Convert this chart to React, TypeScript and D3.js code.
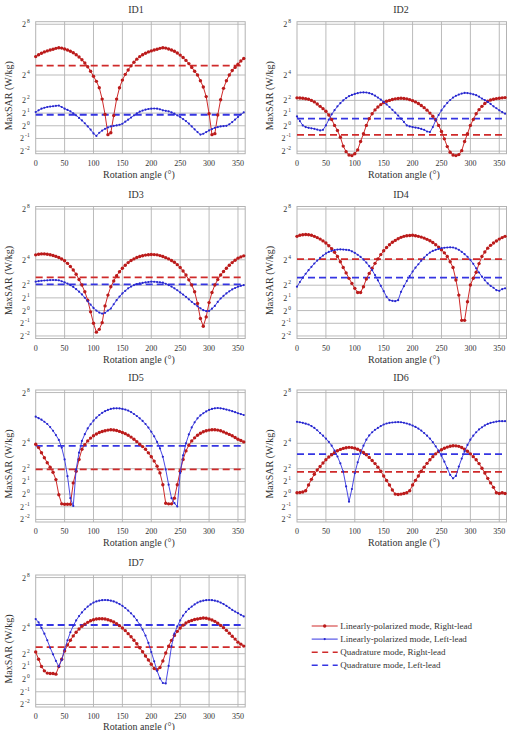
import React from 'react';
import * as d3 from 'd3';

// MaxSAR per rotation angle, stored as log2(W/kg), sampled every 5 degrees from 0 to 360
const angles = d3.range(0, 361, 5);

const linRight1 = [5.45, 5.6, 5.72, 5.82, 5.9, 5.97, 6.03, 6.1, 6.15, 6.12, 6.05, 5.97, 5.87, 5.75, 5.6, 5.42, 5.2, 4.95, 4.65, 4.3, 3.9, 3.5, 3.0, 2.1, 0.9, -0.7, -0.55, 0.8, 2.1, 3.0, 3.6, 4.05, 4.4, 4.72, 5.0, 5.25, 5.45, 5.6, 5.72, 5.82, 5.9, 5.97, 6.03, 6.1, 6.15, 6.12, 6.05, 5.97, 5.87, 5.73, 5.57, 5.38, 5.15, 4.9, 4.6, 4.3, 4.0, 3.55, 3.05, 2.3, 0.95, -0.7, -0.62, 0.85, 2.05, 2.95, 3.55, 4.0, 4.35, 4.6, 4.85, 5.1, 5.3];
const linLeft1 = [1.08, 1.22, 1.35, 1.42, 1.48, 1.51, 1.54, 1.57, 1.59, 1.48, 1.35, 1.25, 1.14, 0.98, 0.82, 0.62, 0.42, 0.2, -0.05, -0.3, -0.6, -0.8, -0.55, -0.38, -0.24, -0.13, -0.05, 0.0, 0.03, 0.08, 0.16, 0.32, 0.48, 0.65, 0.82, 0.97, 1.11, 1.2, 1.27, 1.32, 1.35, 1.36, 1.35, 1.3, 1.22, 1.18, 1.14, 1.05, 0.95, 0.82, 0.69, 0.53, 0.37, 0.17, -0.05, -0.28, -0.5, -0.69, -0.63, -0.5, -0.37, -0.26, -0.16, -0.1, -0.05, -0.02, 0.0, 0.12, 0.29, 0.49, 0.69, 0.88, 1.06];

const linRight2 = [2.2, 2.19, 2.17, 2.13, 2.09, 2.0, 1.88, 1.72, 1.53, 1.35, 1.14, 0.85, 0.5, 0.03, -0.37, -0.9, -1.6, -2.04, -2.3, -2.35, -2.2, -1.9, -1.24, -0.63, 0.03, 0.56, 0.95, 1.25, 1.48, 1.67, 1.83, 1.93, 2.0, 2.07, 2.12, 2.15, 2.17, 2.15, 2.12, 2.06, 1.98, 1.88, 1.75, 1.6, 1.43, 1.23, 1.0, 0.75, 0.48, 0.03, -0.45, -1.03, -1.64, -2.09, -2.3, -2.35, -2.27, -1.96, -1.24, -0.63, 0.03, 0.5, 0.95, 1.27, 1.53, 1.75, 1.93, 2.03, 2.09, 2.14, 2.17, 2.2, 2.22];
const linLeft2 = [0.74, 0.37, 0.03, -0.1, -0.16, -0.2, -0.24, -0.3, -0.37, -0.32, 0.03, 0.48, 0.9, 1.23, 1.53, 1.78, 2.0, 2.18, 2.33, 2.43, 2.51, 2.57, 2.62, 2.63, 2.62, 2.57, 2.49, 2.37, 2.22, 2.06, 1.88, 1.68, 1.48, 1.26, 1.03, 0.8, 0.56, 0.3, 0.03, -0.05, -0.1, -0.14, -0.18, -0.25, -0.32, -0.45, -0.5, -0.1, 0.42, 0.85, 1.22, 1.53, 1.8, 2.03, 2.22, 2.36, 2.46, 2.54, 2.59, 2.58, 2.54, 2.48, 2.41, 2.29, 2.14, 2.02, 1.88, 1.72, 1.53, 1.38, 1.22, 1.08, 0.95];

const linRight3 = [4.39, 4.44, 4.47, 4.47, 4.44, 4.4, 4.34, 4.27, 4.18, 4.06, 3.92, 3.72, 3.47, 3.2, 2.86, 2.45, 2.01, 1.48, 0.82, -0.1, -1.0, -1.7, -1.48, -0.95, 0.37, 1.22, 1.88, 2.33, 2.75, 3.06, 3.33, 3.57, 3.78, 3.94, 4.07, 4.18, 4.26, 4.32, 4.37, 4.4, 4.42, 4.41, 4.39, 4.33, 4.26, 4.17, 4.07, 3.95, 3.81, 3.62, 3.39, 3.12, 2.8, 2.42, 2.01, 1.48, 0.56, -0.63, -1.24, -0.5, 0.63, 1.43, 2.01, 2.44, 2.8, 3.08, 3.33, 3.57, 3.78, 3.96, 4.13, 4.23, 4.31];
const linLeft3 = [2.28, 2.32, 2.35, 2.37, 2.38, 2.4, 2.41, 2.4, 2.38, 2.31, 2.22, 2.12, 2.01, 1.86, 1.69, 1.49, 1.27, 1.01, 0.74, 0.47, 0.21, 0.0, -0.16, -0.24, -0.18, 0.0, 0.16, 0.5, 0.82, 1.1, 1.35, 1.56, 1.75, 1.89, 2.01, 2.08, 2.14, 2.18, 2.22, 2.25, 2.28, 2.27, 2.25, 2.23, 2.2, 2.11, 2.01, 1.89, 1.75, 1.6, 1.43, 1.26, 1.08, 0.89, 0.69, 0.51, 0.34, 0.18, 0.03, -0.04, -0.03, 0.15, 0.37, 0.68, 0.95, 1.16, 1.35, 1.52, 1.67, 1.78, 1.88, 1.95, 2.01];

const linRight4 = [5.85, 5.93, 5.98, 5.99, 5.98, 5.93, 5.85, 5.75, 5.63, 5.49, 5.32, 5.11, 4.87, 4.59, 4.26, 3.85, 3.39, 2.97, 2.54, 2.14, 1.75, 1.43, 1.43, 1.88, 2.49, 2.93, 3.33, 3.72, 4.07, 4.41, 4.71, 4.97, 5.19, 5.38, 5.53, 5.66, 5.77, 5.85, 5.9, 5.92, 5.93, 5.9, 5.85, 5.79, 5.71, 5.61, 5.5, 5.36, 5.19, 5.0, 4.79, 4.55, 4.26, 3.85, 3.39, 2.41, 1.22, -0.77, -0.77, 0.69, 2.01, 2.55, 3.02, 3.7, 4.26, 4.62, 4.92, 5.14, 5.32, 5.48, 5.63, 5.75, 5.85];
const linLeft4 = [1.88, 2.25, 2.59, 2.9, 3.18, 3.45, 3.71, 3.94, 4.15, 4.33, 4.5, 4.62, 4.71, 4.77, 4.81, 4.82, 4.81, 4.79, 4.76, 4.67, 4.55, 4.4, 4.23, 4.02, 3.78, 3.5, 3.18, 2.8, 2.38, 1.95, 1.53, 1.08, 0.82, 0.77, 0.74, 0.82, 1.48, 1.92, 2.33, 2.72, 3.07, 3.38, 3.65, 3.93, 4.18, 4.39, 4.57, 4.7, 4.79, 4.86, 4.92, 4.95, 4.97, 4.98, 4.97, 4.9, 4.79, 4.63, 4.44, 4.24, 4.0, 3.68, 3.33, 3.0, 2.67, 2.39, 2.14, 1.95, 1.8, 1.61, 1.56, 1.69, 1.75];

const linRight5 = [3.93, 3.66, 3.26, 2.86, 2.47, 2.12, 1.72, 1.14, -0.05, -0.77, -0.8, -0.8, -0.8, 0.88, 1.8, 2.73, 3.53, 3.9, 4.19, 4.41, 4.59, 4.73, 4.85, 4.93, 4.99, 5.04, 5.07, 5.05, 5.01, 4.94, 4.85, 4.76, 4.64, 4.49, 4.32, 4.13, 3.93, 3.74, 3.53, 3.25, 2.94, 2.6, 2.2, 1.67, 0.74, -0.72, -0.77, -0.77, -0.32, 0.74, 1.8, 2.73, 3.4, 3.85, 4.19, 4.43, 4.64, 4.79, 4.91, 4.99, 5.04, 5.07, 5.07, 5.04, 4.99, 4.9, 4.8, 4.7, 4.59, 4.46, 4.32, 4.22, 4.11];
const linLeft5 = [6.1, 5.98, 5.86, 5.7, 5.52, 5.28, 4.99, 4.65, 4.27, 3.66, 2.73, 1.41, -0.32, -0.93, 1.94, 3.26, 4.19, 4.72, 5.17, 5.5, 5.78, 6.02, 6.23, 6.4, 6.53, 6.63, 6.71, 6.75, 6.76, 6.75, 6.71, 6.66, 6.58, 6.46, 6.31, 6.15, 5.97, 5.76, 5.52, 5.24, 4.91, 4.55, 4.11, 3.6, 2.94, 1.94, 0.74, -0.32, -0.72, -0.98, 1.67, 3.05, 4.0, 4.7, 5.25, 5.65, 5.97, 6.2, 6.37, 6.51, 6.63, 6.71, 6.76, 6.78, 6.76, 6.72, 6.66, 6.6, 6.53, 6.45, 6.37, 6.3, 6.23];

const linRight6 = [0.11, 0.13, 0.16, 0.26, 0.71, 1.16, 1.56, 1.9, 2.17, 2.45, 2.7, 2.92, 3.1, 3.27, 3.41, 3.52, 3.6, 3.65, 3.68, 3.66, 3.62, 3.53, 3.41, 3.27, 3.1, 2.89, 2.65, 2.4, 2.12, 1.8, 1.43, 1.07, 0.71, 0.32, 0.0, -0.03, 0.0, 0.05, 0.11, 0.26, 0.71, 1.08, 1.43, 1.8, 2.12, 2.42, 2.7, 2.95, 3.17, 3.35, 3.49, 3.61, 3.7, 3.77, 3.81, 3.8, 3.76, 3.67, 3.54, 3.37, 3.17, 2.95, 2.7, 2.4, 2.04, 1.66, 1.24, 0.88, 0.53, 0.11, 0.05, 0.11, 0.05];
const linLeft6 = [5.69, 5.66, 5.61, 5.55, 5.48, 5.36, 5.21, 5.03, 4.81, 4.6, 4.37, 4.12, 3.81, 3.43, 2.96, 2.42, 1.77, 0.6, -0.6, 0.4, 1.64, 2.5, 3.23, 3.81, 4.29, 4.62, 4.87, 5.06, 5.21, 5.36, 5.48, 5.56, 5.61, 5.64, 5.66, 5.67, 5.66, 5.62, 5.56, 5.49, 5.4, 5.29, 5.16, 5.0, 4.81, 4.6, 4.37, 4.09, 3.76, 3.42, 3.02, 2.55, 2.04, 1.51, 1.24, 1.43, 2.17, 2.8, 3.36, 3.87, 4.29, 4.6, 4.87, 5.09, 5.26, 5.41, 5.53, 5.61, 5.66, 5.71, 5.74, 5.74, 5.74];

const linRight7 = [2.13, 1.56, 0.99, 0.65, 0.47, 0.44, 0.44, 0.39, 0.99, 1.56, 2.21, 2.68, 3.06, 3.4, 3.69, 3.94, 4.16, 4.33, 4.47, 4.59, 4.68, 4.73, 4.75, 4.75, 4.73, 4.68, 4.6, 4.5, 4.36, 4.21, 4.03, 3.82, 3.58, 3.33, 3.06, 2.78, 2.47, 2.15, 1.82, 1.5, 1.17, 0.83, 0.73, 0.91, 1.43, 2.05, 2.6, 3.05, 3.43, 3.76, 4.03, 4.25, 4.42, 4.54, 4.62, 4.69, 4.73, 4.78, 4.81, 4.79, 4.73, 4.65, 4.55, 4.4, 4.23, 4.05, 3.84, 3.62, 3.38, 3.15, 2.91, 2.75, 2.6];
const linLeft7 = [4.73, 4.47, 4.03, 3.58, 3.06, 2.47, 1.95, 1.43, 0.99, 1.51, 2.34, 3.05, 3.69, 4.2, 4.62, 4.96, 5.25, 5.5, 5.71, 5.88, 6.03, 6.12, 6.18, 6.22, 6.23, 6.22, 6.18, 6.12, 6.03, 5.91, 5.77, 5.6, 5.4, 5.18, 4.94, 4.64, 4.29, 3.9, 3.43, 2.85, 2.13, 1.4, 0.65, 0.05, -0.31, -0.34, 1.04, 2.6, 3.58, 4.15, 4.62, 5.0, 5.3, 5.53, 5.71, 5.88, 6.03, 6.12, 6.18, 6.22, 6.23, 6.22, 6.18, 6.12, 6.03, 5.91, 5.77, 5.62, 5.45, 5.32, 5.19, 5.06, 4.94];

// quadrature mode is a single level per electrode (log2 W/kg)
const quadRight = [4.74, -0.71, 2.62, 4.05, 1.94, 1.75, 2.52];
const quadLeft = [0.87, 0.56, 2.06, 2.59, 3.79, 3.15, 4.26];

const panelNames = ['ID1', 'ID2', 'ID3', 'ID4', 'ID5', 'ID6', 'ID7'];
const linRight = [linRight1, linRight2, linRight3, linRight4, linRight5, linRight6, linRight7];
const linLeft = [linLeft1, linLeft2, linLeft3, linLeft4, linLeft5, linLeft6, linLeft7];

const yTickExps = [-2, -1, 0, 1, 2, 4, 8];
const xTicks = [0, 50, 100, 150, 200, 250, 300, 350];

const legendLabels = [
  'Linearly-polarized mode, Right-lead',
  'Linearly-polarized mode, Left-lead',
  'Quadrature mode, Right-lead',
  'Quadrature mode, Left-lead',
];

const RED = '#cf2a2a';
const RED_DOT = '#bb1b1b';
const BLUE = '#3535e2';
const BLUE_DOT = '#2626cc';
const GRID = '#b3b3b3';
const TEXT = '#333';
const FONT = '"Liberation Serif", "Times New Roman", serif';

const colX = [35.7, 297];
const colTitleX = [136, 401];
const rowY = [21.7, 206.5, 390, 575];
const plotW = 209.5;
const plotH = 132;

function Panel({ i }: { i: number }) {
  const x0 = colX[i % 2];
  const y0 = rowY[Math.floor(i / 2)];
  const x = d3.scaleLinear().domain([0, 362.5]).range([x0, x0 + plotW]);
  const y = d3.scaleLog().base(2).domain([2 ** -2.2, 2 ** 8.2]).range([y0 + plotH, y0]);

  const pts = (arr: number[]) => arr.map((v, k) => [angles[k], 2 ** v] as [number, number]);
  const line = d3.line<[number, number]>().x(d => x(d[0])).y(d => y(d[1]));
  const right = pts(linRight[i]);
  const left = pts(linLeft[i]);
  const yMid = y0 + plotH / 2;
  // the last row sits against the page bottom
  const axisTitleY = Math.min(y0 + plotH + 24, 729.5);

  return (
    <g>
      <text x={colTitleX[i % 2]} y={y0 - 9} textAnchor="middle" fontSize={10} fill={TEXT}>{panelNames[i]}</text>

      <rect x={x0} y={y0} width={plotW} height={plotH} fill="#fff" stroke={GRID} strokeWidth={1} />
      {yTickExps.map(e => (
        <line key={'h' + e} x1={x0} x2={x0 + plotW} y1={y(2 ** e)} y2={y(2 ** e)} stroke={GRID} strokeWidth={0.9} />
      ))}
      {xTicks.slice(1).map(t => (
        <line key={'v' + t} x1={x(t)} x2={x(t)} y1={y0} y2={y0 + plotH} stroke={GRID} strokeWidth={0.9} />
      ))}

      {yTickExps.map(e => (
        <text key={'yl' + e} x={x0 - 6} y={y(2 ** e) + 3} textAnchor="end" fontSize={8} fill={TEXT}>
          2<tspan dx={1} dy={-4} fontSize={5.5}>{e}</tspan>
        </text>
      ))}
      {xTicks.map(t => (
        <text key={'xl' + t} x={x(t)} y={y0 + plotH + 12} textAnchor="middle" fontSize={8} fill={TEXT}>{t}</text>
      ))}
      <text x={colTitleX[i % 2] + 3} y={axisTitleY} textAnchor="middle" fontSize={10} fill={TEXT}>Rotation angle (°)</text>
      <text transform={`translate(${x0 - 24},${yMid + 8}) rotate(-90)`} textAnchor="middle" fontSize={10} fill={TEXT}>MaxSAR (W/kg)</text>

      <line x1={x(0)} x2={x(360)} y1={y(2 ** quadRight[i])} y2={y(2 ** quadRight[i])} stroke={RED} strokeWidth={1.8} strokeDasharray="7,4" />
      <line x1={x(0)} x2={x(360)} y1={y(2 ** quadLeft[i])} y2={y(2 ** quadLeft[i])} stroke={BLUE} strokeWidth={1.8} strokeDasharray="7,4" />

      <path d={line(right) || ''} fill="none" stroke={RED} strokeWidth={1} />
      {right.map((d, k) => (
        <circle key={'r' + k} cx={x(d[0])} cy={y(d[1])} r={1.7} fill={RED_DOT} />
      ))}
      <path d={line(left) || ''} fill="none" stroke={BLUE} strokeWidth={0.9} />
      {left.map((d, k) => (
        <circle key={'b' + k} cx={x(d[0])} cy={y(d[1])} r={1.1} fill={BLUE_DOT} />
      ))}
    </g>
  );
}

function Legend() {
  const lx = 311.7;
  const ly = 626;
  const step = 13.1;
  return (
    <g>
      {legendLabels.map((label, k) => {
        const cy = ly + k * step;
        const color = k % 2 === 0 ? RED : BLUE;
        const dashed = k >= 2;
        return (
          <g key={label}>
            {dashed ? (
              <line x1={lx} x2={lx + 26} y1={cy} y2={cy} stroke={color} strokeWidth={1.6} strokeDasharray="6,4.5" />
            ) : (
              <>
                <line x1={lx} x2={lx + 26} y1={cy} y2={cy} stroke={color} strokeWidth={1} />
                <circle cx={lx + 13} cy={cy} r={k === 0 ? 1.7 : 1.1} fill={k === 0 ? RED_DOT : BLUE_DOT} />
              </>
            )}
            <text x={lx + 28.5} y={cy + 3} fontSize={9} fill={TEXT}>{label}</text>
          </g>
        );
      })}
    </g>
  );
}

export default function App() {
  return (
    <svg
      width={513}
      height={730}
      style={{ position: 'absolute', left: 0, top: 0, background: '#fff' }}
      fontFamily={FONT}
    >
      <rect width={513} height={730} fill="#fff" />
      {panelNames.map((_, i) => (
        <Panel key={i} i={i} />
      ))}
      <Legend />
    </svg>
  );
}
